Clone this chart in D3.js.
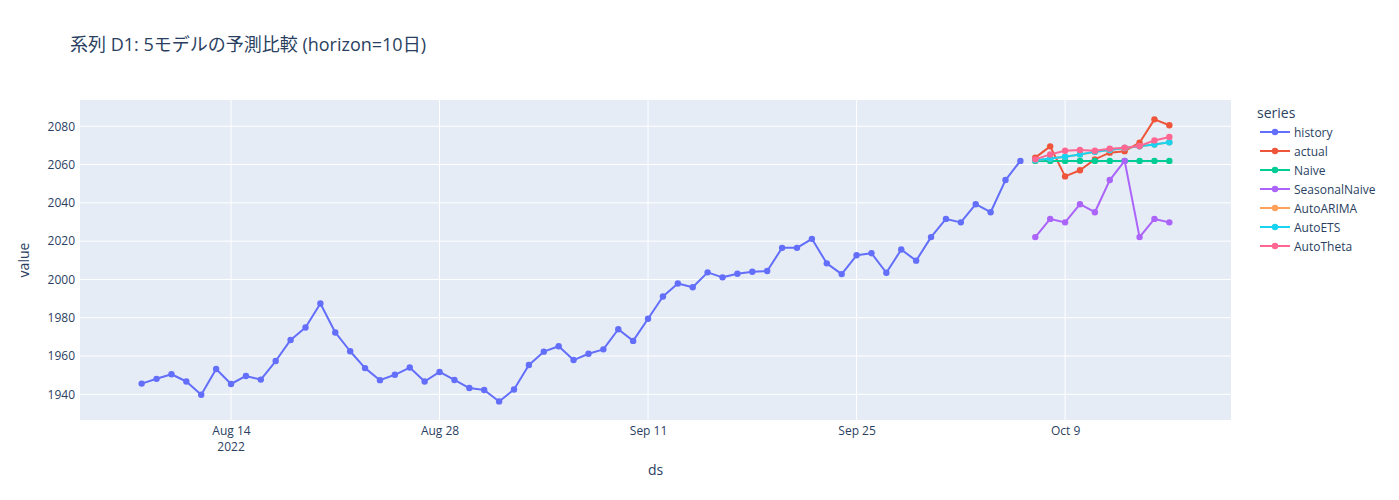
<!DOCTYPE html>
<html>
<head>
<meta charset="utf-8">
<script src="https://cdn.jsdelivr.net/npm/d3@7.9.0/dist/d3.min.js"></script>
<style>
  body { margin: 0; background: #fff; }
  text { font-family: "Open Sans", "Noto Sans CJK JP", sans-serif; fill: #2a3f5f; }
</style>
</head>
<body>
<svg id="chart" width="1399" height="500"></svg>
<script>
// history: daily values from Aug 8 to Oct 6, 2022
const historyStart = '2022-08-08';
const historyValues = [
  1945.6, 1948.1, 1950.5, 1946.7, 1939.8, 1953.2, 1945.4, 1949.6, 1947.7, 1957.4,
  1968.4, 1974.9, 1987.4, 1972.3, 1962.5, 1953.7, 1947.4, 1950.2, 1954.0, 1946.7,
  1951.7, 1947.5, 1943.3, 1942.3, 1936.3, 1942.5, 1955.3, 1962.3, 1965.1, 1957.9,
  1961.2, 1963.5, 1974.0, 1967.9, 1979.5, 1991.1, 1997.9, 1995.9, 2003.7, 2001.1,
  2003.0, 2004.0, 2004.4, 2016.5, 2016.5, 2021.2, 2008.4, 2002.8, 2012.6, 2013.7,
  2003.5, 2015.6, 2009.8, 2022.1, 2031.6, 2029.8, 2039.3, 2035.1, 2051.9, 2061.9
];

// forecast horizon: Oct 7 .. Oct 16
const forecastStart = '2022-10-07';
const actualValues = [2063.6, 2069.5, 2053.8, 2057.0, 2062.7, 2066.2, 2067.0, 2071.4, 2083.6, 2080.5];
const naiveValues = [2061.9, 2061.9, 2061.9, 2061.9, 2061.9, 2061.9, 2061.9, 2061.9, 2061.9, 2061.9];
const seasonalNaiveValues = [2022.1, 2031.6, 2029.8, 2039.3, 2035.1, 2051.9, 2061.9, 2022.1, 2031.6, 2029.8];
const autoArimaValues = [2062.3, 2063.2, 2064.1, 2065.3, 2066.6, 2067.6, 2068.6, 2069.5, 2070.5, 2071.6];
const autoEtsValues = [2062.3, 2063.2, 2064.1, 2065.3, 2066.7, 2067.6, 2068.6, 2069.5, 2070.5, 2071.6];
const autoThetaValues = [2062.7, 2065.3, 2067.2, 2067.6, 2067.2, 2068.3, 2068.8, 2069.7, 2072.6, 2074.4];

const seriesNames = ['history', 'actual', 'Naive', 'SeasonalNaive', 'AutoARIMA', 'AutoETS', 'AutoTheta'];
const seriesColors = ['#636efa', '#EF553B', '#00cc96', '#ab63fa', '#FFA15A', '#19d3f3', '#FF6692'];

const yTicks = [1940, 1960, 1980, 2000, 2020, 2040, 2060, 2080];
const xTickDates = ['2022-08-14', '2022-08-28', '2022-09-11', '2022-09-25', '2022-10-09'];

const parse = d3.timeParse('%Y-%m-%d');

// turn values into dated points
function toPoints(start, values) {
  const s = parse(start);
  return values.map((v, i) => ({ date: d3.timeDay.offset(s, i), value: v }));
}

const seriesData = [
  historyValues, actualValues, naiveValues, seasonalNaiveValues,
  autoArimaValues, autoEtsValues, autoThetaValues
].map((vals, i) => ({
  name: seriesNames[i],
  color: seriesColors[i],
  points: toPoints(i === 0 ? historyStart : forecastStart, vals)
}));

const svg = d3.select('#chart');
const m = { left: 80, right: 1231, top: 100, bottom: 420 };

// x domain padded like plotly autorange
const allDates = seriesData.flatMap(d => d.points.map(p => p.date));
const [dMin, dMax] = d3.extent(allDates);
const padMs = (dMax - dMin) * 0.06;
const x = d3.scaleTime()
  .domain([new Date(+dMin - padMs), new Date(+dMax + padMs)])
  .range([m.left, m.right]);

const y = d3.scaleLinear().domain([1926.6, 2093.7]).range([m.bottom, m.top]);

// plot background
svg.append('rect')
  .attr('x', m.left).attr('y', m.top)
  .attr('width', m.right - m.left).attr('height', m.bottom - m.top)
  .attr('fill', '#E5ECF6');

// grid
const grid = svg.append('g');
grid.selectAll('.gy').data(yTicks).enter().append('line')
  .attr('x1', m.left).attr('x2', m.right)
  .attr('y1', d => y(d)).attr('y2', d => y(d))
  .attr('stroke', '#fff').attr('stroke-width', 1);
grid.selectAll('.gx').data(xTickDates.map(parse)).enter().append('line')
  .attr('y1', m.top).attr('y2', m.bottom)
  .attr('x1', d => x(d)).attr('x2', d => x(d))
  .attr('stroke', '#fff').attr('stroke-width', 1);

// y axis labels
const yAxis = svg.append('g')
  .attr('transform', `translate(${m.left},0)`)
  .call(d3.axisLeft(y).tickValues(yTicks).tickSize(0).tickPadding(5).tickFormat(d3.format('d')));
yAxis.select('.domain').remove();
yAxis.selectAll('text').style('font-size', '12px').attr('fill', '#2a3f5f');

// x axis labels
const xAxis = svg.append('g')
  .attr('transform', `translate(0,${m.bottom})`)
  .call(d3.axisBottom(x).tickValues(xTickDates.map(parse)).tickSize(0).tickPadding(6).tickFormat(d3.timeFormat('%b %-d')));
xAxis.select('.domain').remove();
xAxis.selectAll('text').style('font-size', '12px').attr('fill', '#2a3f5f');
svg.append('text')
  .attr('x', x(parse(xTickDates[0]))).attr('y', m.bottom + 31)
  .attr('text-anchor', 'middle').style('font-size', '12px')
  .text('2022');

// axis titles
svg.append('text')
  .attr('x', (m.left + m.right) / 2).attr('y', 475)
  .attr('text-anchor', 'middle').style('font-size', '14px')
  .text('ds');
svg.append('text')
  .attr('transform', `translate(29,${(m.top + m.bottom) / 2}) rotate(-90)`)
  .attr('text-anchor', 'middle').style('font-size', '14px')
  .text('value');

// title
svg.append('text')
  .attr('x', 70).attr('y', 51)
  .style('font-size', '18px')
  .text('系列 D1: 5モデルの予測比較 (horizon=10日)');

// lines and markers
const line = d3.line().x(d => x(d.date)).y(d => y(d.value));
const groups = svg.selectAll('.series').data(seriesData).enter().append('g').attr('class', 'series');
groups.append('path')
  .attr('d', d => line(d.points))
  .attr('fill', 'none')
  .attr('stroke', d => d.color)
  .attr('stroke-width', 2)
  .attr('stroke-linejoin', 'round');
groups.each(function(d) {
  d3.select(this).selectAll('circle').data(d.points).enter().append('circle')
    .attr('cx', p => x(p.date))
    .attr('cy', p => y(p.value))
    .attr('r', 3.2)
    .attr('fill', d.color);
});

// legend
const legend = svg.append('g').attr('transform', 'translate(1257,0)');
legend.append('text').attr('x', 0).attr('y', 118).style('font-size', '14px').text('series');
const items = legend.selectAll('.item').data(seriesData).enter().append('g')
  .attr('transform', (d, i) => `translate(0,${132 + i * 19})`);
items.append('line').attr('x1', 3).attr('x2', 33).attr('y1', 0).attr('y2', 0)
  .attr('stroke', d => d.color).attr('stroke-width', 2);
items.append('circle').attr('cx', 18).attr('cy', 0).attr('r', 3.2).attr('fill', d => d.color);
items.append('text').attr('x', 37).attr('y', 4.5).style('font-size', '12px').text(d => d.name);
</script>
</body>
</html>
